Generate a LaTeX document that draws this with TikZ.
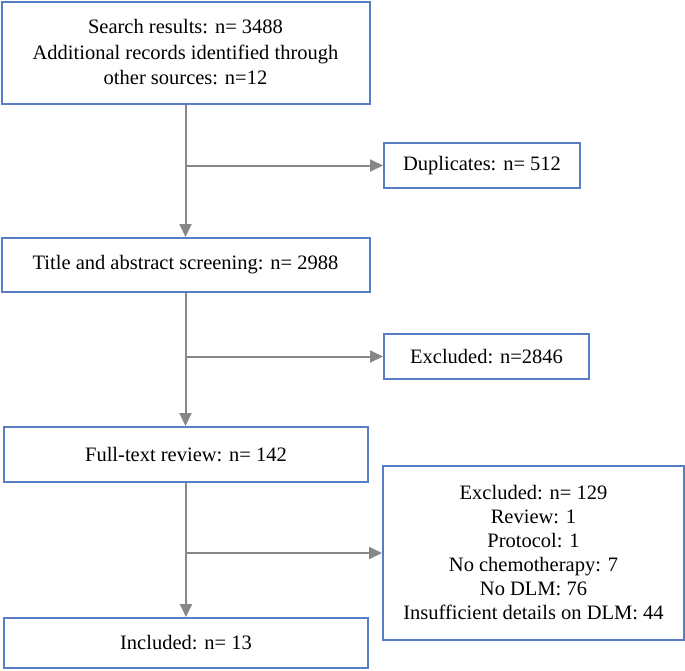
\documentclass[tikz,border=0pt]{standalone}
\usepackage{fontspec}
\setmainfont{Liberation Serif}
\usetikzlibrary{arrows.meta}
\definecolor{boxblue}{RGB}{90,125,200}
\definecolor{arrgray}{RGB}{135,135,135}
\begin{document}
\begin{tikzpicture}[x=1pt,y=-1pt,
  flowbox/.style={draw=boxblue,line width=2pt,fill=white,inner sep=0pt,align=center,
    font=\fontsize{20.5}{25.5}\selectfont},
  listbox/.style={flowbox,font=\fontsize{20.5}{24}\selectfont},
  conn/.style={draw=arrgray,line width=2pt},
  arr/.style={conn,-{Triangle[length=13pt,width=12pt]}}]
\useasboundingbox (0,0) rectangle (685,670);
\node[flowbox,minimum width=368pt,minimum height=102pt] (box1) at (185.5,52.5)
  {Search results: n= 3488\\Additional records identified through\\other sources: n=12};
\node[flowbox,minimum width=196pt,minimum height=45pt] (dup) at (482,165.5) {Duplicates: n= 512};
\node[flowbox,minimum width=368pt,minimum height=54pt] (title) at (185.5,265) {Title and abstract screening: n= 2988};
\node[flowbox,minimum width=205pt,minimum height=45pt] (excl) at (486.5,356.5) {Excluded: n=2846};
\node[flowbox,minimum width=364pt,minimum height=55pt] (full) at (186,454.5) {Full-text review: n= 142};
\node[listbox,minimum width=301pt,minimum height=174pt] (list) at (533.5,553)
  {Excluded: n= 129\\Review: 1\\Protocol: 1\\No chemotherapy: 7\\No DLM: 76\\Insufficient details on DLM: 44};
\node[flowbox,minimum width=364pt,minimum height=50pt] (incl) at (186,643) {Included: n= 13};
\coordinate (b1) at (box1.south |- dup.west);
\coordinate (b2) at (title.south |- excl.west);
\coordinate (b3) at (full.south |- list.west);
\draw[arr] (box1.south) -- (box1.south |- title.north);
\draw[arr] (b1) -- (dup.west);
\draw[arr] (title.south) -- (title.south |- full.north);
\draw[arr] (b2) -- (excl.west);
\draw[arr] (full.south) -- (full.south |- incl.north);
\draw[arr] (b3) -- (list.west);
\end{tikzpicture}
\end{document}
